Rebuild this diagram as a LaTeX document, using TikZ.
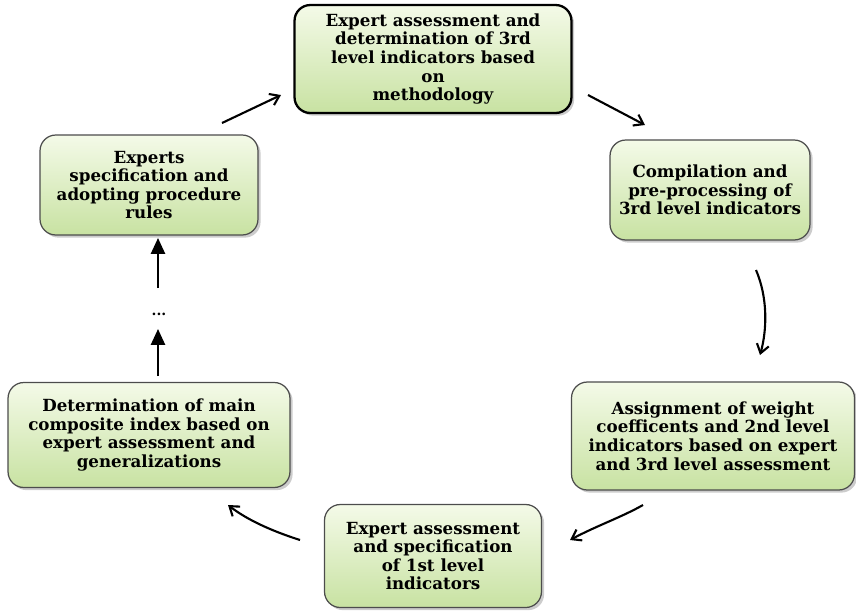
\documentclass[tikz,border=0pt]{standalone}
\usepackage{fontspec}
\setmainfont{DejaVu Serif}
\usetikzlibrary{arrows.meta,shadows}
\definecolor{vertclair}{RGB}{244,250,232}
\definecolor{vertfonce}{RGB}{200,226,162}

\begin{document}
\begin{tikzpicture}[x=0.02cm,y=-0.02cm,
        etape/.style={draw=black!70, line width=0.7pt, rounded corners=9pt,
            top color=vertclair, bottom color=vertfonce,
            drop shadow={shadow xshift=1.5pt, shadow yshift=-1.5pt, fill=black!40},
            align=center, inner sep=2pt,
            font=\bfseries\fontsize{9.5}{10.6}\selectfont},%boites vertes
        fleche/.style={-{Straight Barb[length=5pt,width=7pt]}, line width=1.2pt},%fleches du cycle
        flechepleine/.style={-{Triangle[length=9pt,width=8pt]}, line width=1.1pt}]%fleches a gauche
    \useasboundingbox (0,0) rectangle (856,610);

    \node[etape, draw=black, line width=1.3pt, minimum width=5.54cm, minimum height=2.16cm] (expert3) at (433,59)
        {Expert assessment and\\ determination of 3rd\\ level indicators based\\ on\\ methodology};
    \node[etape, minimum width=4.0cm, minimum height=2.0cm] (compil) at (710,190)
        {Compilation and\\ pre-processing of\\ 3rd level indicators};
    \node[etape, minimum width=5.66cm, minimum height=2.16cm] (assign) at (713,436)
        {Assignment of weight\\ coefficents and 2nd level\\ indicators based on expert\\ and 3rd level assessment};
    \node[etape, minimum width=4.34cm, minimum height=2.06cm] (expert1) at (433,556)
        {Expert assessment\\ and specification\\ of 1st level\\ indicators};
    \node[etape, minimum width=5.64cm, minimum height=2.1cm] (determ) at (149,435)
        {Determination of main\\ composite index based on\\ expert assessment and\\ generalizations};
    \node[etape, minimum width=4.36cm, minimum height=2.0cm] (specif) at (149,185)
        {Experts\\ specification and\\ adopting procedure\\ rules};

    \node[font=\bfseries\fontsize{8}{9}\selectfont] (points) at (159,314) {...};

    % extremites des fleches
    \coordinate (a1) at (222,123);
    \coordinate (b1) at (281,95);
    \coordinate (a2) at (588,95);
    \coordinate (b2) at (645,125);
    \coordinate (a3) at (756,270);
    \coordinate (b3) at (760,355);
    \coordinate (a4) at (643,505);
    \coordinate (b4) at (570,540);
    \coordinate (a5) at (300,540);
    \coordinate (b5) at (228,505);
    \coordinate (a6) at (158,376);
    \coordinate (b6) at (158,329);
    \coordinate (a7) at (158,288);
    \coordinate (b7) at (158,238);

    \draw[fleche] (a1) -- (b1);
    \draw[fleche] (a2) -- (b2);
    \draw[fleche] (a3) .. controls (768,298) and (767,330) .. (b3);
    \draw[fleche] (a4) .. controls (622,517) and (596,526) .. (b4);
    \draw[fleche] (a5) .. controls (278,533) and (250,522) .. (b5);
    \draw[flechepleine] (a6) -- (b6);
    \draw[flechepleine] (a7) -- (b7);
\end{tikzpicture}
\end{document}
